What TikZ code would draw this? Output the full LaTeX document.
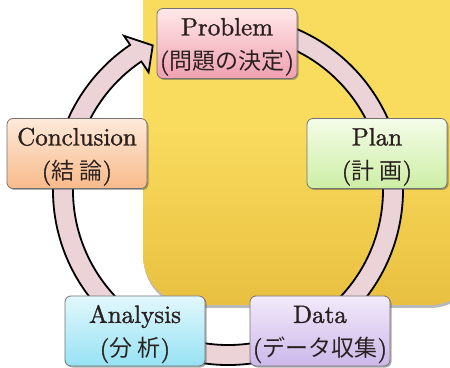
\documentclass[tikz,border=0pt]{standalone}
\usepackage{fontspec}
\newfontfamily\jp{Noto Sans CJK JP}
\newfontfamily\lmb{lmroman10-regular}[Extension=.otf, FakeBold=1.2]
\usetikzlibrary{calc,shadows}
\definecolor{yel}{HTML}{F9DB5E}
\definecolor{yeldark}{HTML}{E9C040}
\definecolor{ringfill}{HTML}{EBD3D8}
\definecolor{txt}{HTML}{2A2020}
\tikzset{
  stagebox/.style={rectangle, rounded corners=6pt, draw=black!55, line width=0.8pt,
    minimum width=140pt, minimum height=70pt, inner sep=0pt, align=center,
    text=txt, font=\fontsize{25}{34}\lmb,
    drop shadow={shadow xshift=1.5pt, shadow yshift=-1.5pt, opacity=0.45, fill=black!70}},
  ring/.style={fill=ringfill, draw=black, line width=1.8pt, line join=miter},
}
\newcommand{\jpt}[1]{{\fontsize{23}{34}\jp #1}}
\newcommand{\topstrut}{\rule{0pt}{24pt}}
\begin{document}
\begin{tikzpicture}[x=1pt,y=1pt]
\clip (0,0) rectangle (450,367);
\fill[white] (0,0) rectangle (450,367);
% yellow panel
\fill[black!50, opacity=0.55, rounded corners=50pt] (143.5,59) rectangle (480,420);
\shade[top color=yel, bottom color=yeldark, middle color=yel, rounded corners=50pt] (143,62) rectangle (480,420);
% cycle arrow
\coordinate (C) at (228,177);
\draw[ring] ($(C)+(80:175)$) arc[start angle=80, end angle=-236, radius=175]
  -- ($(C)+(124:186)$) -- ($(C)+(117.5:163)$) -- ($(C)+(124:142)$)
  -- ($(C)+(124:155)$) arc[start angle=-236, end angle=80, radius=155] -- cycle;
% stages
\node[stagebox, top color=pink!35!white, bottom color={rgb,255:red,240;green,160;blue,176}] (prob) at (227,323.5) {\topstrut Problem\\(\jpt{問題の決定})};
\node[stagebox, top color={rgb,255:red,244;green,252;blue,232}, bottom color={rgb,255:red,205;green,238;blue,165}] (plan) at (377,213.5) {\topstrut Plan\\(\jpt{計 画})};
\node[stagebox, top color={rgb,255:red,254;green,234;blue,218}, bottom color={rgb,255:red,248;green,186;blue,138}] (concl) at (77,213.5) {\topstrut Conclusion\\(\jpt{結 論})};
\node[stagebox, top color={rgb,255:red,226;green,248;blue,252}, bottom color={rgb,255:red,150;green,226;blue,244}] (anal) at (135,36) {\topstrut Analysis\\(\jpt{分 析})};
\node[stagebox, top color={rgb,255:red,242;green,234;blue,250}, bottom color={rgb,255:red,204;green,184;blue,234}] (data) at (320,36) {\topstrut Data\\(\jpt{データ収集})};
\end{tikzpicture}
\end{document}
